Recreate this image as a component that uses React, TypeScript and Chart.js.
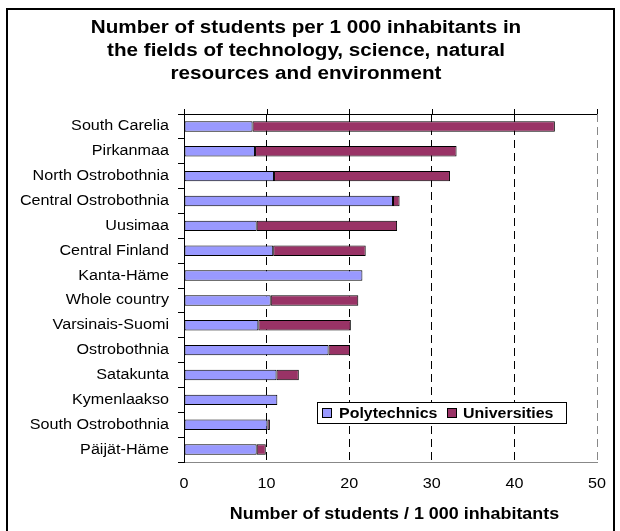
import React, { useEffect, useRef } from "react";
import { Chart, registerables } from "chart.js";

Chart.register(...registerables);

const categories = [
  "South Carelia",
  "Pirkanmaa",
  "North Ostrobothnia",
  "Central Ostrobothnia",
  "Uusimaa",
  "Central Finland",
  "Kanta-Häme",
  "Whole country",
  "Varsinais-Suomi",
  "Ostrobothnia",
  "Satakunta",
  "Kymenlaakso",
  "South Ostrobothnia",
  "Päijät-Häme",
];
const polytechnics = [8.3, 8.6, 10.9, 25.3, 8.8, 10.8, 21.6, 10.5, 9.0, 17.5, 11.2, 11.3, 10.1, 8.8];
const universities = [36.6, 24.4, 21.3, 0.8, 17.0, 11.2, 0, 10.6, 11.2, 2.6, 2.7, 0, 0.3, 1.1];
const seriesNames = ["Polytechnics", "Universities"];
const seriesColors = ["#9999FF", "#993366"];
const xTickValues = [0, 10, 20, 30, 40, 50];
const titleLines = [
  "Number of students per 1 000 inhabitants in",
  "the fields of technology, science, natural",
  "resources and environment",
];
const xTitle = "Number of students / 1 000 inhabitants";

const FONT = "Arial, 'Liberation Sans', sans-serif";
const SX = 1.1; // horizontal text stretch seen in the reference

function drawText(ctx: any, text: string, x: number, y: number, align: string) {
  ctx.save();
  ctx.translate(x, y);
  ctx.scale(SX, 1);
  ctx.textAlign = align;
  ctx.textBaseline = "middle";
  ctx.fillText(text, 0, 0);
  ctx.restore();
}

const decorPlugin = {
  id: "decor",
  beforeDraw(chart: any) {
    const ctx = chart.ctx;
    ctx.save();
    ctx.fillStyle = "#fff";
    ctx.fillRect(0, 0, chart.width, chart.height);
    ctx.restore();
  },
  afterDraw(chart: any) {
    const ctx = chart.ctx;
    const { left, right, top, bottom } = chart.chartArea;
    const xs = chart.scales.x;
    const ys = chart.scales.y;
    ctx.save();
    // outer frame
    ctx.strokeStyle = "#000";
    ctx.lineWidth = 2;
    ctx.beginPath();
    ctx.moveTo(7, chart.height + 2);
    ctx.lineTo(7, 9);
    ctx.lineTo(614, 9);
    ctx.lineTo(614, chart.height + 2);
    ctx.stroke();
    ctx.fillStyle = "#000";
    // title
    ctx.font = `bold 18.8px ${FONT}`;
    titleLines.forEach((t, i) => drawText(ctx, t, 306, 28 + i * 22.7, "center"));
    // y category labels
    ctx.font = `14.7px ${FONT}`;
    categories.forEach((c, i) => drawText(ctx, c, 169, ys.getPixelForValue(i), "right"));
    // x tick labels
    xTickValues.forEach((v) => drawText(ctx, String(v), xs.getPixelForValue(v), bottom + 22, "center"));
    // x title
    ctx.font = `bold 16.3px ${FONT}`;
    drawText(ctx, xTitle, (left + right) / 2 + 4, 515, "center");
    // top axis line with ticks
    ctx.lineWidth = 1;
    ctx.beginPath();
    ctx.moveTo(left, top + 0.5);
    ctx.lineTo(right, top + 0.5);
    xTickValues.forEach((v) => {
      const px = Math.round(xs.getPixelForValue(v)) + 0.5;
      ctx.moveTo(px, top);
      ctx.lineTo(px, top - 5);
    });
    ctx.stroke();
    // legend
    const lx = 317, ly = 402, lw = 249, lh = 21;
    ctx.fillStyle = "#fff";
    ctx.fillRect(lx, ly, lw, lh);
    ctx.strokeStyle = "#000";
    ctx.strokeRect(lx + 0.5, ly + 0.5, lw, lh);
    const items = [
      { sx: 322, tx: 339 },
      { sx: 447, tx: 463 },
    ];
    ctx.font = `bold 14.5px ${FONT}`;
    items.forEach((it, i) => {
      ctx.fillStyle = seriesColors[i];
      ctx.fillRect(it.sx, ly + 6, 9, 9);
      ctx.strokeStyle = "#000";
      ctx.strokeRect(it.sx + 0.5, ly + 6.5, 9, 9);
      ctx.fillStyle = "#000";
      drawText(ctx, seriesNames[i], it.tx, ly + lh / 2 + 1, "left");
    });
    ctx.restore();
  },
};

export default function App() {
  const ref = useRef<HTMLCanvasElement | null>(null);
  useEffect(() => {
    if (!ref.current) return;
    const chart = new Chart(ref.current, {
      type: "bar",
      data: {
        labels: categories,
        datasets: [
          {
            label: seriesNames[0],
            data: polytechnics,
            backgroundColor: seriesColors[0],
            borderColor: "#000",
            borderWidth: 1,
            borderSkipped: false,
          },
          {
            label: seriesNames[1],
            data: universities,
            backgroundColor: seriesColors[1],
            borderColor: "#000",
            borderWidth: 1,
            borderSkipped: false,
          },
        ],
      },
      options: {
        indexAxis: "y",
        responsive: false,
        animation: false,
        devicePixelRatio: 1,
        layout: { padding: { top: 114, right: 23, left: 0, bottom: 0 } },
        datasets: { bar: { categoryPercentage: 1, barPercentage: 0.42 } },
        plugins: {
          legend: { display: false },
          title: { display: false },
          tooltip: { enabled: false },
        },
        scales: {
          x: {
            stacked: true,
            min: 0,
            max: 50,
            position: "bottom",
            afterFit: (s: any) => {
              s.height = 69;
            },
            ticks: { stepSize: 10, display: false },
            grid: {
              drawTicks: false,
              color: (c: any) =>
                c.tick && c.tick.value === 0
                  ? "rgba(0,0,0,0)"
                  : c.tick && c.tick.value === 50
                  ? "#888"
                  : "#000",
            },
            border: { color: "#888", dash: [8, 5] },
          },
          y: {
            stacked: true,
            afterFit: (s: any) => {
              s.width = 184;
            },
            ticks: { display: false },
            grid: {
              offset: true,
              drawOnChartArea: false,
              drawTicks: true,
              tickLength: 6,
              color: "#000",
            },
            border: { color: "#000" },
          },
        },
      },
      plugins: [decorPlugin],
    } as any);
    return () => chart.destroy();
  }, []);
  return (
    <div style={{ position: "fixed", left: 0, top: 0, width: 620, height: 531 }}>
      <canvas ref={ref} width={620} height={531} style={{ display: "block" }} />
    </div>
  );
}
